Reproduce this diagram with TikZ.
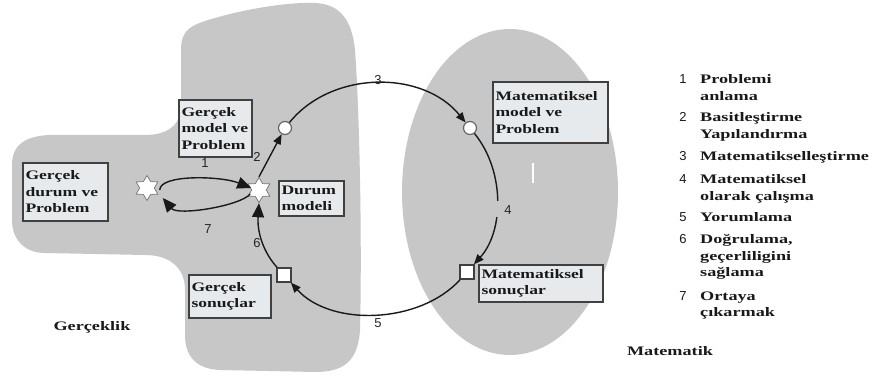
\documentclass[tikz,border=0pt]{standalone}
\usepackage{fontspec}
\newfontfamily\boxfont{Liberation Serif}[FakeStretch=1.35]
\newfontfamily\legfont{Liberation Serif}[FakeStretch=1.4]
\newfontfamily\numfont{Liberation Sans}
\usetikzlibrary{shapes.geometric,arrows.meta}
\definecolor{blobgray}{RGB}{199,199,199}
\definecolor{boxfill}{RGB}{231,234,237}
\definecolor{ink}{RGB}{25,25,25}
\begin{document}
\begin{tikzpicture}[x=1pt,y=1pt,
  region/.style={fill=blobgray,draw=none},
  txtbox/.style={draw=black!75,line width=1.3pt,fill=boxfill,text=ink,
    font=\boxfont\bfseries\fontsize{13}{16.5}\selectfont,
    align=left,inner xsep=2.5pt,inner ysep=0pt},
  legtext/.style={text=ink,font=\legfont\bfseries\fontsize{13}{17}\selectfont,
    anchor=base west,inner sep=0pt},
  legnum/.style={text=ink,font=\numfont\fontsize{13}{15}\selectfont,
    anchor=base,inner sep=0pt},
  numlabel/.style={text=black!85,font=\numfont\fontsize{13}{15}\selectfont,inner sep=1pt},
  regionname/.style={text=ink,font=\legfont\bfseries\fontsize{13}{15}\selectfont},
  starmark/.style={star,star points=6,star point ratio=1.7,minimum size=25pt,
    inner sep=0pt,fill=white,draw=black!55,line width=0.7pt},
  ringmark/.style={circle,minimum size=13pt,inner sep=0pt,fill=white,
    draw=black!60,line width=1.2pt},
  squaremark/.style={rectangle,minimum size=14pt,inner sep=0pt,fill=white,
    draw=black!75,line width=1.2pt},
  flow/.style={draw=ink,line width=1.4pt,-{Triangle[length=10pt,width=8pt]}},
  bigflow/.style={draw=ink,line width=1.4pt,-{Triangle[length=14pt,width=12pt]}}
]
% page
\fill[white] (0,0) rectangle (877,382);
\useasboundingbox (0,0) rectangle (877,382);

% reality region: central blob with a tab to the left
\path[region] (12,182) -- (12,217) .. controls (12,237) and (25,246) .. (50,247)
  -- (145,247) .. controls (168,247) and (181,257) .. (181,277)
  -- (181,332) .. controls (181,352) and (190,357) .. (215,364)
  .. controls (250,374) and (290,380) .. (315,379)
  .. controls (340,378) and (352,362) .. (355,332)
  .. controls (360,262) and (362,132) .. (360,52)
  .. controls (358,22) and (345,10) .. (315,10)
  -- (220,12) .. controls (195,13) and (185,27) .. (185,47)
  -- (185,92) .. controls (185,114) and (170,127) .. (145,127)
  -- (45,129) .. controls (25,129) and (12,142) .. (12,162) -- cycle;

% mathematics region
\path[region] (510,190) ellipse [x radius=108, y radius=163];
\draw[white,line width=1.2pt] (533,199) -- (533,219);

% cycle markers
\node[starmark] (starL) at (147,194) {};
\node[starmark] (starR) at (259,192) {};
\node[ringmark] (c1) at (285,254) {};
\node[ringmark] (c2) at (470,254) {};
\node[squaremark] (sqL) at (284,107) {};
\node[squaremark] (sqR) at (467,110) {};

% text boxes
\node[txtbox,text width=80pt,minimum height=58pt] (bGDP) at (65.5,190) {Gerçek\\durum~ve\\Problem};
\node[txtbox,text width=68pt,minimum height=57pt] (bGMP) at (215.5,253.5) {Gerçek\\model~ve\\Problem};
\node[txtbox,text width=60pt,minimum height=35pt] (bDM) at (311.5,183.5) {Durum\\modeli};
\node[txtbox,text width=77pt,minimum height=43pt] (bGS) at (230,85.5) {Gerçek\\sonuçlar};
\node[txtbox,text width=110pt,minimum height=61pt] (bMMP) at (550.5,269.5) {Matematiksel\\model~ve\\Problem};
\node[txtbox,text width=119pt,minimum height=37pt] (bMS) at (541,98.5) {Matematiksel\\sonuçlar};

% connectors
\draw[bigflow] ([xshift=5pt,yshift=-2pt]starL.east) .. controls +(0,16) and +(-30,12) .. ([yshift=2pt]starR.west);
\draw[bigflow] ([xshift=-1pt,yshift=-4pt]starR.west) .. controls +(-10,-12) and +(15,-18) .. ([xshift=8pt,yshift=-10pt]starL.east);
\draw[flow] (starR.north) -- (c1);
\draw[flow] (c1) .. controls +(47,58) and +(-47,58) .. (c2);
\draw[flow] (c2) .. controls +(35,-43) and +(37,41) .. (sqR);
\draw[flow] (sqR) .. controls +(-47,-52) and +(47,-52) .. (sqL);
\draw[bigflow] (sqL) .. controls +(-20,22) and +(-2,-30) .. (starR.south);

% break in the line beside the step number 4
\node[fill=blobgray,minimum width=8pt,minimum height=16pt,inner sep=0pt] (gap4) at (497,173) {};

% step numbers
\node[numlabel] (n1) at (205,219) {1};
\node[numlabel] (n7) at (208,153) {7};
\node[numlabel] (n2) at (257,225) {2};
\node[numlabel] (n6) at (257,139) {6};
\node[numlabel] (n3) at (378,302) {3};
\node[numlabel] (n5) at (378,59) {5};
\node[numlabel] (n4) at (508,172) {4};

% region names
\node[regionname] (reality) at (92,55) {Gerçeklik};
\node[regionname] (maths) at (670,31) {Matematik};

% legend
\foreach \y/\n in {298/1,260/2,221/3,198/4,160/5,138/6,81/7}
  \node[legnum] (ln\n) at (683,\y) {\n};
\foreach \y/\t in {298/Problemi,281/anlama,260/Basitleştirme,243/Yapılandırma,
  221/Matematikselleştirme,198/Matematiksel,181/olarak çalışma,160/Yorumlama,
  138/{Doğrulama,},121/geçerliligini,105/sağlama,81/Ortaya,65/çıkarmak}
  \node[legtext] (lt\y) at (700,\y) {\t};
\end{tikzpicture}
\end{document}
